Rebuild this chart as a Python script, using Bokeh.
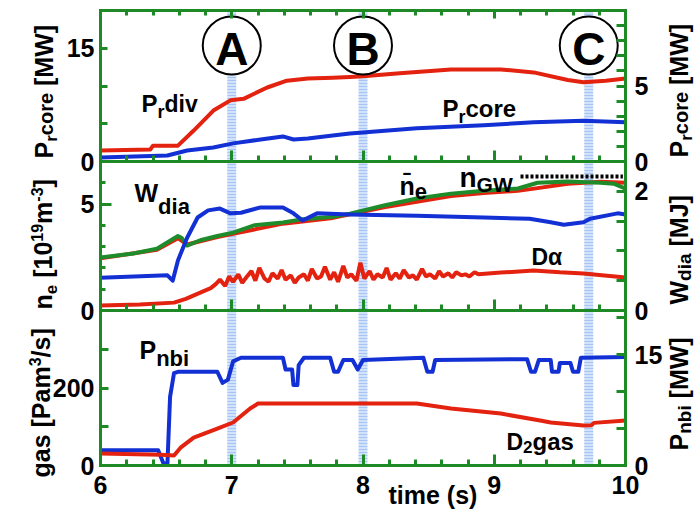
import math
from bokeh.plotting import figure
from bokeh.models import Range1d, LinearAxis, FixedTicker, Label
from bokeh.embed import file_html
from bokeh.resources import INLINE

# ---------------- data ----------------
# top panel: radiated power
prdiv_t = [6.0, 6.38, 6.40, 6.59, 6.71, 6.86, 6.99, 7.09, 7.27, 7.42, 7.58, 7.77, 7.90, 8.0,
           8.28, 8.67, 9.05, 9.30, 9.56, 9.68, 9.85, 10.0]
prdiv = [1.46, 1.6, 2.1, 2.1, 4.1, 6.75, 8.1, 8.3, 9.8, 10.7, 11.0, 11.1, 11.2, 11.3,
         11.7, 12.2, 12.2, 11.8, 10.8, 10.5, 10.7, 11.0]
prcore_t = [6.0, 6.51, 6.66, 6.86, 7.01, 7.22, 7.39, 7.47, 7.58, 7.77, 7.90, 8.41, 8.92,
            9.30, 9.68, 10.0]
prcore = [0.26, 0.4, 0.73, 0.93, 1.2, 1.46, 1.66, 1.46, 1.52, 1.72, 1.85, 2.2, 2.4,
          2.6, 2.7, 2.6]

# middle panel: density, stored energy, D-alpha
ne_t = [6.0, 6.25, 6.43, 6.59, 6.62, 6.66, 6.76, 6.89, 7.01, 7.17, 7.39, 7.52, 7.77, 7.90,
        8.16, 8.41, 8.67, 8.92, 9.18, 9.33, 9.56, 9.81, 9.91, 10.0]
ne = [2.49, 2.68, 2.9, 3.5, 3.4, 3.05, 3.3, 3.5, 3.66, 4.0, 4.13, 4.27, 4.4, 4.55,
      4.93, 5.26, 5.49, 5.63, 5.73, 6.0, 6.06, 6.0, 5.96, 5.73]
ne2_t = [6.0, 6.43, 6.59, 6.66, 6.89, 7.01, 7.39, 7.77, 8.16, 8.67, 8.92, 9.18, 9.33,
         9.56, 9.81, 10.0]
ne2 = [2.45, 2.85, 3.4, 3.1, 3.45, 3.6, 4.08, 4.35, 4.85, 5.38, 5.52, 5.62, 5.75,
       5.95, 6.05, 6.0]
ngw_t = [9.2, 9.98]
ngw = [6.3, 6.3]
wdia_t = [6.0, 6.51, 6.55, 6.59, 6.66, 6.74, 6.82, 6.91, 6.99, 7.07, 7.22, 7.39, 7.47,
          7.54, 7.65, 7.90, 8.41, 8.92, 9.27, 9.43, 9.53, 9.68, 9.73, 9.94, 10.0]
wdia = [0.55, 0.59, 0.5, 0.84, 1.22, 1.56, 1.68, 1.71, 1.63, 1.64, 1.73, 1.73, 1.63,
        1.51, 1.63, 1.61, 1.59, 1.56, 1.54, 1.48, 1.44, 1.48, 1.54, 1.63, 1.61]
da_t = [6.0, 6.3, 6.56, 6.65, 6.76, 6.84,
        6.88, 6.91, 6.95, 6.98, 7.01, 7.05, 7.08, 7.11, 7.15, 7.18, 7.21, 7.25, 7.28,
        7.31, 7.35, 7.38, 7.41, 7.45, 7.48, 7.51, 7.55, 7.58, 7.61, 7.65, 7.68, 7.71,
        7.75, 7.78, 7.81, 7.85, 7.88, 7.91, 7.95, 7.98, 8.01, 8.05, 8.08, 8.11, 8.15,
        8.18, 8.21, 8.25, 8.28, 8.31, 8.35, 8.38, 8.41, 8.45, 8.48, 8.51, 8.55, 8.58,
        8.61, 8.65, 8.68, 8.71, 8.75, 8.78, 8.81, 8.85, 8.88,
        9.05, 9.30, 9.50, 9.68, 10.0]
da = [0.23, 0.28, 0.37, 0.55, 0.84, 1.05,
      1.25, 1.45, 1.15, 1.6, 1.35, 1.7, 1.3, 1.55, 1.85, 1.4, 2.0, 1.5, 1.35,
      1.75, 1.5, 1.9, 1.45, 1.65, 1.3, 1.55, 1.7, 1.4, 1.95, 1.5, 1.6, 2.05,
      1.45, 1.8, 1.35, 2.1, 1.55, 1.7, 1.4, 2.25, 1.5, 1.85, 1.45, 1.7, 1.55,
      2.0, 1.45, 1.75, 1.5, 1.9, 1.55, 1.65, 1.45, 1.95, 1.6, 1.7, 1.5, 1.85,
      1.6, 1.75, 1.55, 1.8, 1.65, 1.7, 1.6, 1.8, 1.7,
      1.78, 1.88, 1.8, 1.74, 1.55]

# bottom panel: beam power and gas puff
pnbi_t = [6.00, 6.44, 6.48, 6.51, 6.53, 6.56, 6.59, 6.89, 6.93, 6.97, 7.01, 7.07, 7.39,
          7.41, 7.46, 7.47, 7.50, 7.51, 7.55, 7.75, 7.78, 7.81, 7.85, 7.92, 7.96, 8.00,
          8.46, 8.49, 8.53, 8.55, 9.25, 9.28, 9.31, 9.34, 9.43, 9.44, 9.49, 9.50, 9.58,
          9.60, 9.64, 9.66, 10.0]
pnbi = [2.05, 2.05, 0.27, 0.27, 9.3, 12.5, 12.7, 12.7, 11.2, 11.6, 14.1, 14.6, 14.6,
        13.0, 13.0, 10.9, 10.9, 13.6, 14.6, 14.6, 12.7, 12.7, 14.3, 14.3, 13.0, 14.3,
        14.6, 12.7, 12.7, 14.3, 14.4, 12.7, 12.7, 14.3, 14.3, 12.7, 12.7, 13.9, 13.9,
        12.7, 12.7, 14.6, 14.7]
gas_t = [6.0, 6.46, 6.56, 6.61, 6.71, 6.89, 7.01, 7.14, 7.20, 8.41, 8.67, 9.05, 9.35,
         9.43, 9.68, 9.74, 9.76, 10.0]
gas = [31, 28, 26, 46, 72, 95, 111, 147, 160, 160, 147, 134, 116, 111, 103, 104, 110, 116]

# marked time slices
bands = [7.0, 8.0, 9.72]
band_names = ["A", "B", "C"]

# ticks
x_major = [6, 7, 8, 9, 10]
x_minor = [6 + 0.2 * i for i in range(21) if i % 5]

# ---------------- styling / layout ----------------
FONT = "Liberation Sans"
GREEN = "#1e8a25"
RED = "#e3220f"
BLUE = "#1230d4"
NEGREEN = "#1f8c2c"
BAND = "#a6c5f5"

W_FIG, H_FIG = 700, 512
X0_PX, X1_PX = 100, 625          # frame of the panels, screen px
PXS = (X1_PX - X0_PX) / 4.0      # px per second


def xd(px):
    return 6 + (px - X0_PX) / PXS


def yd(py):
    return H_FIG - py


# panel extents in screen px (top, bottom)
PAN_PX = {"top": (10, 161), "mid": (161, 310), "bot": (310, 465)}
PANELS = {k: (yd(b), yd(a)) for k, (a, b) in PAN_PX.items()}


def panel_range(lo, hi, panel):
    a, b = PANELS[panel]
    s = (hi - lo) / (b - a)
    return Range1d(lo - a * s, hi + (H_FIG - b) * s)


p = figure(width=W_FIG, height=H_FIG, x_range=Range1d(xd(0), xd(W_FIG)),
           y_range=Range1d(0, H_FIG), x_axis_type=None, y_axis_type=None,
           toolbar_location=None, output_backend="svg",
           min_border_left=0, min_border_right=0, min_border_top=0, min_border_bottom=0)
p.outline_line_color = None
p.background_fill_color = "white"
p.border_fill_color = "white"

YR = {"tl": (0, 20, "top"), "tr": (0, 10, "top"), "ml": (0, 7, "mid"),
      "mr": (0, 2.5, "mid"), "bl": (0, 400, "bot"), "br": (0, 21, "bot")}
p.extra_y_ranges = {k: panel_range(*v) for k, v in YR.items()}


def style(ax, tin, tin_minor):
    ax.axis_line_color = GREEN
    ax.axis_line_width = 3
    ax.axis_line_cap = "square"
    ax.major_tick_line_color = GREEN
    ax.minor_tick_line_color = GREEN
    ax.major_tick_line_width = 3
    ax.minor_tick_line_width = 3
    ax.major_tick_in = tin
    ax.major_tick_out = 0
    ax.minor_tick_in = tin_minor
    ax.minor_tick_out = 0
    ax.major_label_text_font = FONT
    ax.major_label_text_font_style = "bold"
    ax.major_label_text_font_size = "25px"
    ax.major_label_text_color = "black"


def yaxis(side, rng, major, minor, tin, tin_minor):
    lo, hi, _ = YR[rng]
    ax = LinearAxis(y_range_name=rng, fixed_location=6 if side == "left" else 10,
                    bounds=(lo, hi), ticker=FixedTicker(ticks=major, minor_ticks=minor))
    style(ax, tin, tin_minor)
    ax.major_label_standoff = 6 if side == "left" else 9
    p.add_layout(ax, side)


yaxis("left", "tl", [0, 15], [5, 10], 7, 7)
yaxis("left", "ml", [0, 5], [1, 2, 3, 4, 6], 11, 5)
yaxis("left", "bl", [0, 200], [100, 300], 8, 8)
yaxis("right", "tr", [0, 5], [1, 2, 3, 4, 6, 7, 8, 9], 9, 9)
yaxis("right", "mr", [0, 2], [0.5, 1, 1.5], 9, 9)
yaxis("right", "br", [0, 15], [5, 10, 20], 9, 9)

# horizontal edges: top edge, two separators, bottom axis with labels
for loc, side, labelled in [(PANELS["top"][1], "above", False),
                            (PANELS["top"][0], "below", False),
                            (PANELS["mid"][0], "below", False),
                            (PANELS["bot"][0], "below", True)]:
    ax = LinearAxis(ticker=FixedTicker(ticks=x_major, minor_ticks=x_minor),
                    fixed_location=loc, bounds=(6, 10))
    style(ax, 11 if side == "below" else 8, 6 if side == "below" else 5)
    if labelled:
        ax.major_label_standoff = 10
    else:
        ax.major_label_overrides = {t: "" for t in x_major}
    p.add_layout(ax, side)

# time-slice bands (span the three panels)
p.segment(x0=bands, x1=bands, y0=[PANELS["bot"][0]] * len(bands),
          y1=[PANELS["top"][1]] * len(bands), line_color=BAND, line_width=9,
          line_dash="2 1", level="underlay")

# curves
p.line(prcore_t, prcore, y_range_name="tr", line_color=BLUE, line_width=4, line_join="round")
p.line(prdiv_t, prdiv, y_range_name="tl", line_color=RED, line_width=4, line_join="round")

p.line(da_t, da, y_range_name="ml", line_color=RED, line_width=4)
p.line(ne2_t, ne2, y_range_name="ml", line_color=RED, line_width=4, line_join="round")
p.line(ne_t, ne, y_range_name="ml", line_color=NEGREEN, line_width=4, line_join="round")
p.line(wdia_t, wdia, y_range_name="mr", line_color=BLUE, line_width=4, line_join="round")
p.line(ngw_t, ngw, y_range_name="ml", line_color="black", line_width=4, line_dash="3 2")

p.line(pnbi_t, pnbi, y_range_name="br", line_color=BLUE, line_width=4, line_join="round")
p.line(gas_t, gas, y_range_name="bl", line_color=RED, line_width=4, line_join="round")

# ---------------- texts ----------------
EM = {"P": .667, "r": .389, "c": .556, "o": .611, "e": .556, " ": .278, "[": .333, "]": .333,
      "M": .833, "W": .944, "d": .611, "i": .278, "v": .556, "n": .611, "b": .611, "a": .556,
      "g": .611, "s": .556, "/": .278, "m": .889, "1": .556, "0": .556, "9": .556, "3": .556,
      "-": .333, "G": .778, "J": .556, "D": .722, "2": .556, "\u03b1": .6, "\u0304": 0.0,
      "t": .333, "(": .333, ")": .333}
BASE_FIX = 0.3   # rendered baseline sits ~0.3 em lower than requested


def tw(text, size):
    return sum(EM.get(c, 0.6) for c in text) * size


def compound(x0, y0, pieces, vertical=False):
    off = 0.0
    for text, size, shift in pieces:
        lead = len(text) - len(text.lstrip(" "))
        off += lead * EM[" "] * size
        text = text.lstrip(" ")
        up = shift + BASE_FIX * size
        if vertical:
            sx, sy = x0 - up, y0 - off
        else:
            sx, sy = x0 + off, y0 - up
        p.add_layout(Label(x=xd(sx), y=yd(sy), text=text,
                           angle=math.pi / 2 if vertical else 0.0,
                           text_font=FONT, text_font_style="bold",
                           text_font_size=f"{size}px", text_align="left",
                           text_baseline="alphabetic", text_color="black"))
        off += tw(text, size)


# axis titles (vertical)
compound(51, 158, [("P", 25, 0), ("r", 17, -5), ("core", 20, 0), (" [MW]", 25, 0)], True)
compound(50, 309, [("n", 25, 0), ("e", 17, -6), (" [10", 25, 0), ("19", 16, 9),
                   ("m", 25, 0), ("-3", 16, 9), ("]", 25, 0)], True)
compound(48, 477, [("gas [Pam", 25, 0), ("3", 16, 9), ("/s]", 25, 0)], True)
compound(686, 157, [("P", 25, 0), ("r", 17, -5), ("core", 20, 0), (" [MW]", 25, 0)], True)
compound(686, 304, [("W", 25, 0), ("dia", 19, -4), (" [MJ]", 25, 0)], True)
compound(686, 450, [("P", 25, 0), ("nbi", 19, -4), (" [MW]", 25, 0)], True)

# in-plot labels
compound(141, 110, [("P", 24, 0), ("r", 18, -7), ("div", 23, 0)])
compound(442, 115, [("P", 24, 0), ("r", 18, -7), ("core", 24, 0)])
compound(134, 200, [("W", 25, 0), ("dia", 22, -13)])
compound(399, 193, [("n\u0304", 25, 0), ("e", 22, -5)])
compound(459, 185, [("n", 28, 0), ("GW", 21, -5)])
compound(531, 263, [("D\u03b1", 23, 0)])
compound(139, 357, [("P", 25, 0), ("nbi", 22, -8)])
compound(506, 448, [("D", 23, 0), ("2", 17, -4), ("gas", 24, 0)])
compound(388, 502, [("time (s)", 25, 0)])

# circled slice markers
circle_y = yd(45)
p.scatter(bands, [circle_y] * len(bands), marker="circle", size=58, fill_color="white",
          line_color="black", line_width=2)
for t, name in zip(bands, band_names):
    p.add_layout(Label(x=t, y=yd(62 - BASE_FIX * 46), text=name, text_align="center",
                       text_baseline="alphabetic", text_font=FONT, text_font_style="bold",
                       text_font_size="46px", text_color="black"))

open("out.html", "w").write(file_html(p, INLINE))
